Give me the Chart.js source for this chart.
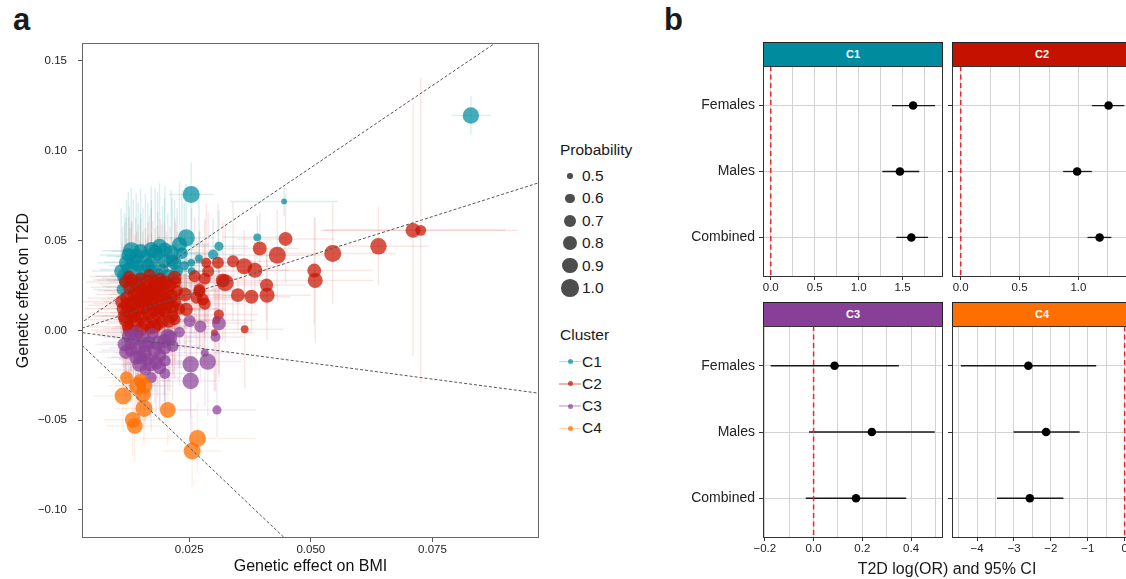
<!DOCTYPE html>
<html>
<head>
<meta charset="utf-8">
<script src="https://cdn.jsdelivr.net/npm/chart.js@4.4.1/dist/chart.umd.min.js"></script>
<style>
  html, body { margin: 0; padding: 0; background: #fff; }
  body { width: 1126px; height: 579px; overflow: hidden; position: relative;
         font-family: "Liberation Sans", Arial, Helvetica, sans-serif; color: #1a1a1a; }
  canvas { position: absolute; }
  .abs { position: absolute; white-space: nowrap; }
  .tag { position: absolute; font-weight: bold; font-size: 31px; line-height: 1; }
  .strip { position: absolute; width: 178px; height: 23px; border: 1px solid #222; color: #fff;
           font-weight: bold; font-size: 11px; line-height: 23px; text-align: center; }
  .legTitle { position: absolute; font-size: 15.5px; line-height: 18px; }
  .legText { position: absolute; font-size: 15.5px; line-height: 18px; }
</style>
</head>
<body>

<div class="tag" style="left:13px;top:4px">a</div>
<div class="tag" style="left:664px;top:4px">b</div>

<canvas id="scatterA" width="545" height="579" style="left:0;top:0"></canvas>
<div id="legend"></div>

<div class="strip" style="left:763px;top:42px;background:#008c9e">C1</div>
<div class="strip" style="left:952px;top:42px;background:#c51200">C2</div>
<div class="strip" style="left:763px;top:302px;background:#883f97">C3</div>
<div class="strip" style="left:952px;top:302px;background:#ff6f00">C4</div>

<canvas id="facetC1" width="285" height="235" style="left:660px;top:66px"></canvas>
<canvas id="facetC2" width="200" height="235" style="left:945px;top:66px"></canvas>
<canvas id="facetC3" width="285" height="236" style="left:660px;top:326px"></canvas>
<canvas id="facetC4" width="200" height="236" style="left:945px;top:326px"></canvas>

<div class="abs" style="left:947px;top:560px;transform:translateX(-50%);font-size:16px;line-height:18px">T2D log(OR) and 95% CI</div>

<script>
// ---------- panel a data: [BMI effect, T2D effect, probability, (x err), (y err)] ----------
const clusterNames = ['C1', 'C2', 'C3', 'C4'];
const clusterFill = ['rgba(0,140,158,0.72)', 'rgba(200,20,0,0.72)', 'rgba(138,67,153,0.72)', 'rgba(255,111,0,0.75)'];
const clusterErr = ['rgba(0,140,158,0.14)', 'rgba(200,20,0,0.1)', 'rgba(138,67,153,0.11)', 'rgba(255,111,0,0.1)'];
const defaultErr = [[0.006, 0.035], [0.008, 0.033], [0.006, 0.03], [0.006, 0.02]];

const c1Points = [
  [0.0829, 0.1196, 0.94, 0.004, 0.011], [0.0254, 0.0756, 0.975, 0.0045, 0.018],
  [0.0445, 0.0718, 0.51, 0.011, 0.008], [0.0244, 0.0515, 0.975, 0.006, 0.03],
  [0.0390, 0.0518, 0.56, 0.007, 0.012], [0.0311, 0.0468, 0.60, 0.006, 0.02],
  [0.0299, 0.0422, 0.63, 0.006, 0.02], [0.0254, 0.0376, 0.56, 0.005, 0.02],
  [0.0131, 0.0444, 0.975, 0.006, 0.035], [0.0189, 0.0468, 0.86], [0.0172, 0.0450, 0.86],
  [0.0230, 0.0478, 0.86], [0.0213, 0.0432, 0.86], [0.0141, 0.0413, 0.86],
  [0.0121, 0.0376, 0.86], [0.0127, 0.0339, 0.86], [0.0199, 0.0385, 0.8],
  [0.0172, 0.0376, 0.8], [0.0220, 0.0376, 0.8], [0.0117, 0.0302, 0.86],
  [0.0131, 0.0246, 0.8], [0.0113, 0.0228, 0.71], [0.0172, 0.0330, 0.8],
  [0.0206, 0.0302, 0.8], [0.0160, 0.0410, 0.75], [0.0145, 0.0360, 0.7],
  [0.0185, 0.0420, 0.7], [0.0235, 0.0430, 0.7], [0.0150, 0.0300, 0.66],
  [0.0125, 0.0420, 0.8], [0.0195, 0.0340, 0.7], [0.0240, 0.0360, 0.6],
  [0.0270, 0.0400, 0.56], [0.0255, 0.0330, 0.56],
  [0.0120, 0.0280, 0.85], [0.0135, 0.0380, 0.85], [0.0150, 0.0440, 0.85],
  [0.0165, 0.0360, 0.8], [0.0180, 0.0440, 0.8], [0.0200, 0.0450, 0.8],
  [0.0215, 0.0390, 0.75], [0.0155, 0.0330, 0.8], [0.0185, 0.0310, 0.75],
  [0.0110, 0.0330, 0.8], [0.0225, 0.0330, 0.7], [0.0140, 0.0280, 0.8]
];

const c2Points = [
  [0.0710, 0.0557, 0.85, 0.019, 0.07], [0.0726, 0.0557, 0.66, 0.02, 0.085],
  [0.0639, 0.0468, 0.94, 0.0105, 0.022], [0.0545, 0.0428, 0.975, 0.013, 0.028],
  [0.0507, 0.0333, 0.80, 0.012, 0.03], [0.0509, 0.0278, 0.86, 0.012, 0.035],
  [0.0448, 0.0509, 0.80, 0.01, 0.025], [0.0431, 0.0418, 0.975, 0.01, 0.025],
  [0.0395, 0.0456, 0.80, 0.008, 0.02], [0.0409, 0.0252, 0.76, 0.008, 0.02],
  [0.0410, 0.0196, 0.86, 0.009, 0.025], [0.0378, 0.0187, 0.80, 0.008, 0.02],
  [0.0350, 0.0196, 0.80, 0.008, 0.02], [0.0385, 0.0335, 0.86, 0.007, 0.02],
  [0.0363, 0.0357, 0.91, 0.007, 0.02], [0.0340, 0.0385, 0.71], [0.0324, 0.0265, 0.975],
  [0.0319, 0.0278, 0.80], [0.0309, 0.0376, 0.71], [0.0285, 0.0376, 0.63],
  [0.0289, 0.0329, 0.71], [0.0282, 0.0287, 0.71], [0.0271, 0.0228, 0.71],
  [0.0282, 0.0148, 0.71], [0.0265, 0.0182, 0.71], [0.0311, 0.0089, 0.63],
  [0.0306, 0.0057, 0.56], [0.0302, -0.0013, 0.54], [0.0364, 0.0006, 0.56],
  [0.0220, 0.0293, 0.8], [0.0261, 0.0302, 0.71], [0.0271, 0.0218, 0.71],
  [0.0244, 0.0117, 0.76], [0.0220, 0.0061, 0.7], [0.0278, 0.0172, 0.71],
  [0.0241, 0.0200, 0.8], [0.0199, 0.0265, 0.86],
  [0.0115, 0.012, 0.8], [0.0120, 0.006, 0.85], [0.0122, 0.018, 0.8], [0.0125, 0.002, 0.75],
  [0.0128, 0.024, 0.8], [0.0130, 0.010, 0.88], [0.0133, 0.015, 0.85], [0.0135, -0.001, 0.7],
  [0.0138, 0.020, 0.85], [0.0140, 0.005, 0.88], [0.0143, 0.012, 0.85], [0.0145, 0.026, 0.8],
  [0.0148, 0.017, 0.88], [0.0150, 0.008, 0.85], [0.0152, 0.001, 0.8], [0.0155, 0.022, 0.85],
  [0.0157, 0.013, 0.88], [0.0160, 0.004, 0.8], [0.0162, 0.018, 0.85], [0.0165, 0.027, 0.8],
  [0.0167, 0.010, 0.88], [0.0170, 0.015, 0.85], [0.0172, 0.021, 0.88], [0.0175, 0.006, 0.8],
  [0.0177, 0.012, 0.85], [0.0180, 0.024, 0.85], [0.0182, 0.017, 0.88], [0.0185, 0.009, 0.8],
  [0.0188, 0.020, 0.85], [0.0190, 0.014, 0.85], [0.0193, 0.026, 0.8], [0.0195, 0.005, 0.75],
  [0.0198, 0.018, 0.85], [0.0200, 0.011, 0.8], [0.0203, 0.022, 0.85], [0.0206, 0.015, 0.8],
  [0.0210, 0.025, 0.75], [0.0213, 0.019, 0.8], [0.0216, 0.008, 0.7], [0.0220, 0.016, 0.75],
  [0.0225, 0.022, 0.7], [0.0118, 0.027, 0.7], [0.0126, 0.030, 0.7], [0.0150, 0.029, 0.7],
  [0.0135, 0.008, 0.8], [0.0160, 0.024, 0.85], [0.0175, 0.028, 0.75], [0.0190, 0.029, 0.7],
  [0.0145, -0.002, 0.66], [0.0170, 0.001, 0.7], [0.0123, 0.014, 0.85], [0.0155, 0.016, 0.88],
  [0.0185, 0.003, 0.7],
  [0.0118, 0.008, 0.85], [0.0128, 0.000, 0.8], [0.0142, 0.022, 0.85], [0.0165, 0.020, 0.88],
  [0.0178, 0.002, 0.8], [0.0195, 0.012, 0.85], [0.0208, 0.005, 0.75], [0.0215, 0.013, 0.8],
  [0.0112, 0.016, 0.8], [0.0132, 0.028, 0.75], [0.0185, 0.025, 0.8], [0.0168, 0.031, 0.7],
  [0.0222, 0.027, 0.7], [0.0230, 0.012, 0.7]
];

const c3Points = [
  [0.0253, -0.0189, 0.94, 0.006, 0.03], [0.0253, -0.0282, 0.94, 0.006, 0.035],
  [0.0288, -0.0174, 0.94, 0.007, 0.03], [0.0282, -0.0124, 0.56],
  [0.0307, -0.0443, 0.60, 0.008, 0.015], [0.0304, -0.0037, 0.63],
  [0.0311, 0.0039, 0.80], [0.0273, 0.0021, 0.71], [0.0172, -0.0263, 0.67],
  [0.0148, -0.0189, 0.85], [0.0182, -0.0180, 0.8], [0.0189, -0.0207, 0.76],
  [0.0141, -0.0152, 0.8], [0.0117, -0.0078, 0.8], [0.0158, -0.0124, 0.85],
  [0.0179, -0.0106, 0.85], [0.0199, -0.0059, 0.8], [0.0210, -0.0041, 0.85],
  [0.0216, -0.0087, 0.7], [0.0131, -0.0068, 0.8], [0.0168, -0.0068, 0.75],
  [0.0251, 0.0052, 0.71], [0.0206, -0.0032, 0.85], [0.0199, -0.0096, 0.8],
  [0.0125, -0.003, 0.75], [0.0140, -0.001, 0.7], [0.0155, -0.004, 0.8],
  [0.0165, -0.016, 0.75], [0.0145, -0.010, 0.85], [0.0190, -0.014, 0.75],
  [0.0175, -0.002, 0.7], [0.0230, -0.001, 0.66], [0.0160, -0.022, 0.7],
  [0.0200, -0.024, 0.66],
  [0.0120, -0.012, 0.8], [0.0135, -0.004, 0.85], [0.0150, -0.015, 0.8],
  [0.0170, -0.019, 0.8], [0.0185, -0.007, 0.85], [0.0160, -0.008, 0.85],
  [0.0200, -0.017, 0.7], [0.0130, -0.011, 0.75]
];

const c4Points = [
  [0.0121, -0.0263, 0.75], [0.0114, -0.0365, 0.975], [0.0144, -0.0309, 0.975],
  [0.0158, -0.0309, 0.9], [0.0155, -0.0356, 0.9], [0.0157, -0.0435, 0.975],
  [0.0206, -0.0443, 0.9], [0.0134, -0.0498, 0.9], [0.0138, -0.0532, 0.9],
  [0.0267, -0.0602, 0.975, 0.012, 0.02], [0.0256, -0.0671, 0.975, 0.006, 0.02],
  [0.0150, -0.0280, 0.8]
];

// dashed reference lines through the origin, as two end points each
const refLines = [
  [[0, -0.0009], [0.1, 0.1821]],
  [[0, -0.0013], [0.1, 0.0849]],
  [[0, -0.0002], [0.1, -0.0361]],
  [[0, -0.0007], [0.05, -0.1295]]
];

const xTicks = [0.025, 0.05, 0.075];
const xTickLabels = ['0.025', '0.050', '0.075'];
const yTicks = [-0.10, -0.05, 0, 0.05, 0.10, 0.15];
const yTickLabels = ['\u22120.10', '\u22120.05', '0.00', '0.05', '0.10', '0.15'];
const legendProbs = [0.5, 0.6, 0.7, 0.8, 0.9, 1.0];

// ---------- panel b data ----------
const rows = ['Females', 'Males', 'Combined'];
const c1Est = [1.62, 1.47, 1.60], c1Lo = [1.38, 1.27, 1.43], c1Hi = [1.87, 1.69, 1.79];
const c2Est = [1.256, 0.989, 1.18], c2Lo = [1.114, 0.87, 1.077], c2Hi = [1.39, 1.114, 1.28];
const c3Est = [0.086, 0.239, 0.174], c3Lo = [-0.176, -0.019, -0.032], c3Hi = [0.35, 0.497, 0.38];
const c4Est = [-2.61, -2.13, -2.57], c4Lo = [-4.44, -3.01, -3.46], c4Hi = [-0.77, -1.22, -1.66];

const c12Grid = [0, 0.25, 0.5, 0.75, 1.0, 1.25, 1.5, 1.75];
const c12Major = [0, 0.5, 1.0, 1.5], c12Labels = ['0.0', '0.5', '1.0', '1.5'];
const c3Grid = [-0.2, -0.1, 0, 0.1, 0.2, 0.3, 0.4, 0.5];
const c3Major = [-0.2, 0, 0.2, 0.4], c3Labels = ['\u22120.2', '0.0', '0.2', '0.4'];
const c4Grid = [-4.5, -4, -3.5, -3, -2.5, -2, -1.5, -1, -0.5, 0];
const c4Major = [-4, -3, -2, -1, 0], c4Labels = ['\u22124', '\u22123', '\u22122', '\u22121', '0'];

// ---------- helpers ----------
function sizeFor(p) { return Math.sqrt(7.3 + (p - 0.5) * 136.8); }

const FONT = '"Liberation Sans", Arial, Helvetica, sans-serif';
Chart.defaults.font.family = FONT;

// fixed axis thickness, no extra label padding around the plot area
function fixAxis(size) {
  return s => {
    if (s.isHorizontal()) s.height = size; else s.width = size;
    s.paddingTop = 0; s.paddingBottom = 0; s.paddingLeft = 0; s.paddingRight = 0;
  };
}

// translucent crosshair error bars under the points
const errorBars = {
  id: 'errorBars',
  beforeDatasetsDraw(chart) {
    const { ctx, chartArea, scales: { x, y } } = chart;
    ctx.save();
    ctx.beginPath();
    ctx.rect(chartArea.left, chartArea.top, chartArea.width, chartArea.height);
    ctx.clip();
    ctx.lineWidth = 1.5;
    chart.data.datasets.forEach(ds => {
      if (!ds.errPoints) return;
      ctx.strokeStyle = ds.errColor;
      ds.errPoints.forEach(p => {
        const ex = p[3] !== undefined ? p[3] : ds.errDefault[0];
        const ey = p[4] !== undefined ? p[4] : ds.errDefault[1];
        const px = x.getPixelForValue(p[0]), py = y.getPixelForValue(p[1]);
        ctx.beginPath();
        ctx.moveTo(x.getPixelForValue(p[0] - ex), py);
        ctx.lineTo(x.getPixelForValue(p[0] + ex), py);
        ctx.stroke();
        ctx.beginPath();
        ctx.moveTo(px, y.getPixelForValue(p[1] - ey));
        ctx.lineTo(px, y.getPixelForValue(p[1] + ey));
        ctx.stroke();
      });
    });
    ctx.restore();
  }
};

// box around the plotting area
const frame = {
  id: 'frame',
  afterDraw(chart, args, opts) {
    const { ctx, chartArea: a } = chart;
    ctx.save();
    ctx.strokeStyle = opts.color || '#333';
    ctx.lineWidth = 1;
    ctx.strokeRect(Math.round(a.left) + 0.5, Math.round(a.top) + 0.5,
                   Math.round(a.width) - 1, Math.round(a.height) - 1);
    ctx.restore();
  }
};

// ---------- panel a ----------
const allPoints = [c1Points, c2Points, c3Points, c4Points];
const scatterSets = allPoints.map((pts, i) => ({
  label: clusterNames[i],
  data: pts.map(p => ({ x: p[0], y: p[1], prob: p[2] })),
  backgroundColor: clusterFill[i],
  borderWidth: 0,
  pointRadius: ctx => sizeFor(ctx.raw ? ctx.raw.prob : 0.5),
  errPoints: pts,
  errColor: clusterErr[i],
  errDefault: defaultErr[i],
  order: 4 - i
}));
const lineSets = refLines.map(l => ({
  type: 'line',
  data: l.map(pt => ({ x: pt[0], y: pt[1] })),
  borderColor: '#555',
  borderWidth: 1,
  borderDash: [3, 2],
  pointRadius: 0,
  fill: false,
  order: 0
}));

new Chart(document.getElementById('scatterA'), {
  type: 'scatter',
  data: { datasets: [...scatterSets, ...lineSets] },
  options: {
    responsive: false,
    animation: false,
    events: [],
    layout: { autoPadding: false, padding: { left: 0, top: 43, right: 6, bottom: 0 } },
    plugins: { legend: { display: false }, tooltip: { enabled: false }, frame: { color: '#666' } },
    scales: {
      x: {
        type: 'linear', min: 0.00296, max: 0.0969,
        afterBuildTicks: s => { s.ticks = xTicks.map(v => ({ value: v })); },
        afterFit: fixAxis(41),
        ticks: { callback: (v, i) => xTickLabels[i], font: { size: 11.5 }, color: '#222',
                 padding: 1, maxRotation: 0, autoSkip: false },
        grid: { display: true, drawOnChartArea: false, tickLength: 4, color: '#555' },
        border: { display: false },
        title: { display: true, text: 'Genetic effect on BMI', font: { size: 16 }, color: '#111',
                 padding: { top: 0, bottom: 3 } }
      },
      y: {
        type: 'linear', min: -0.1156, max: 0.16,
        afterBuildTicks: s => { s.ticks = yTicks.map(v => ({ value: v })); },
        afterFit: fixAxis(82),
        ticks: { callback: (v, i) => yTickLabels[i], font: { size: 11.5 }, color: '#222',
                 padding: 11, autoSkip: false },
        grid: { display: true, drawOnChartArea: false, tickLength: 4, color: '#555' },
        border: { display: false },
        title: { display: true, text: 'Genetic effect on T2D', font: { size: 16 }, color: '#111',
                 padding: { top: 14, bottom: 0 } }
      }
    }
  },
  plugins: [errorBars, frame]
});

// ---------- legends for panel a ----------
(function buildLegend() {
  const box = document.getElementById('legend');
  let html = '<div class="legTitle" style="left:560px;top:141px">Probability</div>';
  legendProbs.forEach((p, i) => {
    const cy = 176 + i * 22.4, r = sizeFor(p);
    html += `<div class="abs" style="left:${570 - r}px;top:${cy - r}px;width:${2 * r}px;height:${2 * r}px;border-radius:50%;background:#4d4d4d"></div>`;
    html += `<div class="legText" style="left:582px;top:${cy - 9}px">${p.toFixed(1)}</div>`;
  });
  html += '<div class="legTitle" style="left:560px;top:326px">Cluster</div>';
  clusterNames.forEach((n, i) => {
    const cy = 361.7 + i * 22.2;
    html += `<div class="abs" style="left:559px;top:${cy - 0.75}px;width:22px;height:1.5px;background:${clusterErr[i].replace(/[\d.]+\)$/, '0.3)')}"></div>`;
    html += `<div class="abs" style="left:567.5px;top:${cy - 2.5}px;width:5px;height:5px;border-radius:50%;background:${clusterFill[i]}"></div>`;
    html += `<div class="legText" style="left:582px;top:${cy - 9}px">${n}</div>`;
  });
  box.innerHTML = html;
})();

// ---------- panel b facets ----------
function drawFacet(id, est, lo, hi, cfg) {
  const ciSets = rows.map((r, i) => ({
    type: 'line',
    data: [{ x: lo[i], y: i + 1 }, { x: hi[i], y: i + 1 }],
    borderColor: '#1a1a1a', borderWidth: 1.3, pointRadius: 0, fill: false, order: 2
  }));
  const zeroSet = {
    type: 'line',
    data: [{ x: 0, y: 0.4 }, { x: 0, y: 3.6 }],
    borderColor: '#e8292c', borderWidth: 1.5, borderDash: [5, 3.5], pointRadius: 0, fill: false, order: 1
  };
  const pointSet = {
    data: est.map((v, i) => ({ x: v, y: i + 1 })),
    backgroundColor: '#000', borderWidth: 0, pointRadius: 4.3, order: 0
  };
  const isMajor = v => cfg.major.some(m => Math.abs(m - v) < 1e-9);
  new Chart(document.getElementById(id), {
    type: 'scatter',
    data: { datasets: [...ciSets, zeroSet, pointSet] },
    options: {
      responsive: false,
      animation: false,
      events: [],
      layout: { autoPadding: false, padding: { left: 0, top: 0, right: cfg.padRight, bottom: 0 } },
      plugins: { legend: { display: false }, tooltip: { enabled: false }, frame: { color: '#333' } },
      scales: {
        x: {
          type: 'linear', min: cfg.min, max: cfg.max,
          afterBuildTicks: s => { s.ticks = cfg.grid.map(v => ({ value: v })); },
          afterFit: fixAxis(cfg.xH),
          ticks: {
            callback: (v, i) => {
              const k = cfg.major.findIndex(m => Math.abs(m - cfg.grid[i]) < 1e-9);
              return k >= 0 ? cfg.labels[k] : '';
            },
            font: { size: 11.5 }, color: '#222', padding: 1, maxRotation: 0, autoSkip: false
          },
          grid: { color: '#d2d2d2', lineWidth: 1, tickLength: 3,
                  tickColor: ctx => (ctx.tick && isMajor(ctx.tick.value)) ? '#333' : 'rgba(0,0,0,0)' },
          border: { display: false }
        },
        y: {
          type: 'linear', min: 0.4, max: 3.6, reverse: true,
          afterBuildTicks: s => { s.ticks = rows.map((r, i) => ({ value: i + 1 })); },
          afterFit: fixAxis(cfg.yW),
          ticks: { callback: (v, i) => cfg.showRows ? rows[i] : '', font: { size: 14 }, color: '#222',
                   padding: 4, autoSkip: false },
          grid: { color: '#d2d2d2', lineWidth: 1, tickLength: 4, tickColor: '#333' },
          border: { display: false }
        }
      }
    },
    plugins: [frame]
  });
}

drawFacet('facetC1', c1Est, c1Lo, c1Hi,
  { min: -0.088, max: 1.96, grid: c12Grid, major: c12Major, labels: c12Labels, showRows: true, yW: 103, xH: 24, padRight: 2 });
drawFacet('facetC2', c2Est, c2Lo, c2Hi,
  { min: -0.074, max: 1.455, grid: c12Grid.slice(0, 6), major: c12Major.slice(0, 3), labels: c12Labels.slice(0, 3), showRows: false, yW: 7, xH: 24, padRight: 13 });
drawFacet('facetC3', c3Est, c3Lo, c3Hi,
  { min: -0.2076, max: 0.531, grid: c3Grid, major: c3Major, labels: c3Labels, showRows: true, yW: 103, xH: 24, padRight: 2 });
drawFacet('facetC4', c4Est, c4Lo, c4Hi,
  { min: -4.68, max: 0.2, grid: c4Grid, major: c4Major, labels: c4Labels, showRows: false, yW: 7, xH: 24, padRight: 13 });
</script>
</body>
</html>
